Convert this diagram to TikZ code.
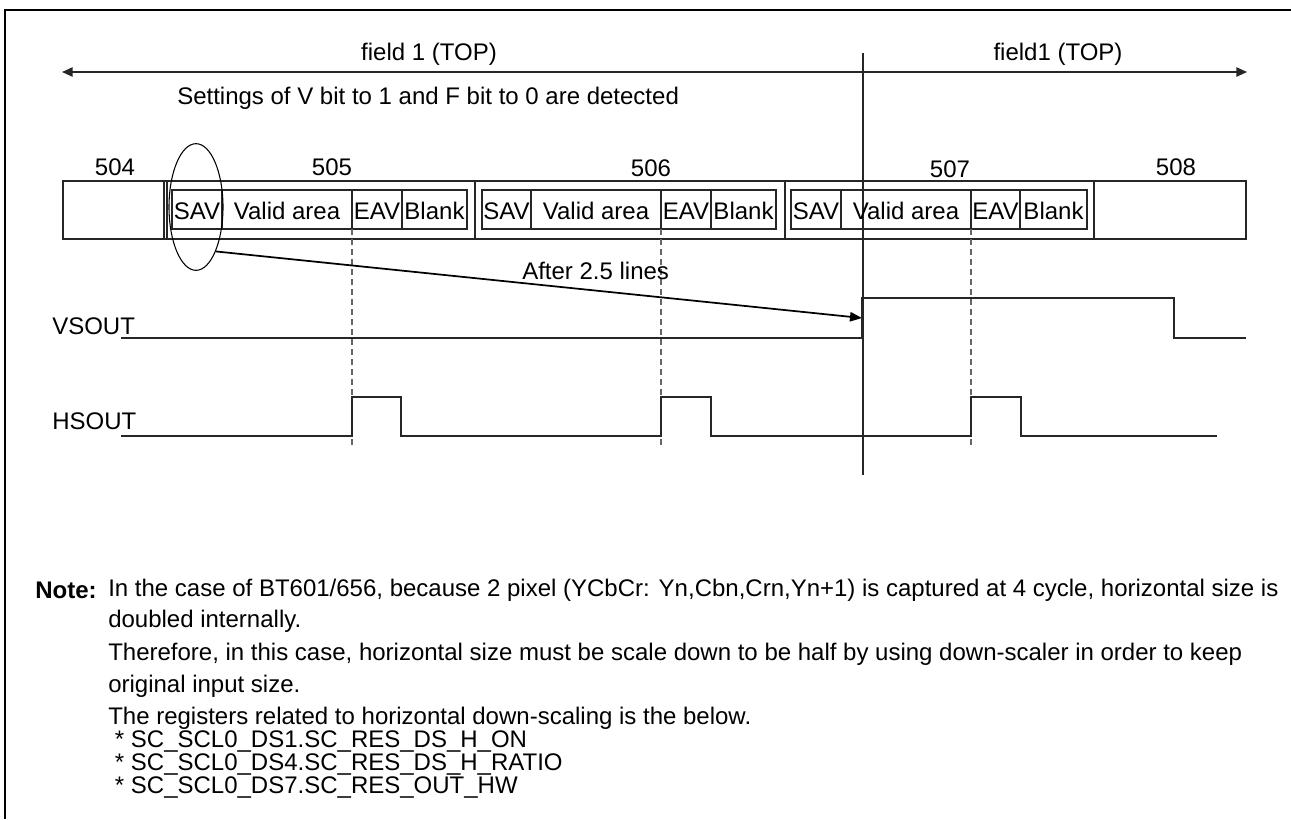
\documentclass[tikz,border=0pt]{standalone}
\usepackage{fontspec}
\setmainfont{Liberation Sans}
\usetikzlibrary{arrows.meta,shapes.geometric}
\begin{document}
\begin{tikzpicture}[x=0.75pt,y=-0.75pt,
  txt/.style={inner sep=0pt,font=\fontsize{18pt}{21pt}\selectfont},
  lbl/.style={txt,anchor=west},
  thin/.style={line width=0.8pt,draw=black!85},
  sig/.style={line width=1.2pt,draw=black!85},
  dsh/.style={line width=0.9pt,draw=black!60,dash pattern=on 4.5pt off 3pt},
  tri/.style={line width=1.2pt,draw=black!85},
]
\useasboundingbox (0,0) rectangle (1291,819);
% frame
\draw[line width=1.8pt] (1291,10) -- (5,10) -- (5,819);
% field arrow
\coordinate (fl) at (62,72);
\coordinate (fr) at (1247,72);
\draw[tri,{Triangle[length=8pt,width=7pt]}-{Triangle[length=8pt,width=7pt]}] (fl) -- (fr);
\node[txt] (f1) at (429,54) {field 1 (TOP)};
\node[txt] (f2) at (1058,54) {field1 (TOP)};
\node[lbl] (set) at (177,98) {Settings of V bit to 1 and F bit to 0 are detected};
% vertical boundary line
\coordinate (vt) at (863,53);
\coordinate (vb) at (863,475);
\draw[line width=1.1pt,draw=black!85] (vt) -- (vb);
% line numbers
\node[txt] (n504) at (115,167) {504};
\node[txt] (n505) at (332,167) {505};
\node[txt] (n506) at (651,168) {506};
\node[txt] (n507) at (950,169) {507};
\node[txt] (n508) at (1176,167) {508};
% outer box
\draw[thin] (63,181) rectangle (1246,239);
\draw[thin] (164,181) -- (164,239);
\draw[thin] (167,181) -- (167,239);
\draw[thin] (475,181) -- (475,239);
\draw[thin] (785,181) -- (785,239);
\draw[thin] (1094,181) -- (1094,239);
% inner segments
\foreach \a/\b/\c/\d/\e/\k in {172/222/352/402/467/a,482/531/661/711/776/b,791/841/971/1020/1087/c}{
  \draw[thin] (\a,190) rectangle (\e,229);
  \draw[thin] (\b,190) -- (\b,229);
  \draw[thin] (\c,190) -- (\c,229);
  \draw[thin] (\d,190) -- (\d,229);
  \node[txt] (sav\k) at ({(\a+\b)/2},211) {SAV};
  \node[txt] (val\k) at ({(\b+\c)/2},211) {Valid area};
  \node[txt] (eav\k) at ({(\c+\d)/2},211) {EAV};
  \node[txt] (blk\k) at ({(\d+\e)/2},211) {Blank};
  \draw[dsh] (\c,229) -- (\c,446);
}
% ellipse marking SAV
\node[draw,line width=0.8pt,ellipse,minimum width=40.5pt,minimum height=95pt,inner sep=0pt] (ell) at (196,207) {};
\coordinate (rise) at (862,318);
\draw[line width=1.3pt,-{Triangle[length=9pt,width=7pt]}] (ell.-66) -- (rise);
\node[lbl] (after) at (522,271) {After 2.5 lines};
% signals
\node[lbl] (vs) at (52,326) {VSOUT};
\node[lbl] (hs) at (52,421) {HSOUT};
\draw[sig] (121,338) -- (862,338) -- (862,298) -- (1174,298) -- (1174,338) -- (1246,338);
\draw[sig] (121,436) -- (352,436) -- (352,397) -- (401,397) -- (401,436) -- (661,436) -- (661,397) -- (711,397) -- (711,436) -- (971,436) -- (971,397) -- (1021,397) -- (1021,436) -- (1217,436);
% note
\node[lbl] (note) at (35,590) {\bfseries Note:};
\node[lbl] (l1) at (108,590) {In the case of BT601/656, because 2 pixel (YCbCr: Yn,Cbn,Crn,Yn+1) is captured at 4 cycle, horizontal size is};
\node[lbl] (l2) at (108,621) {doubled internally.};
\node[lbl] (l3) at (108,654) {Therefore, in this case, horizontal size must be scale down to be half by using down-scaler in order to keep};
\node[lbl] (l4) at (108,686) {original input size.};
\node[lbl] (l5) at (108,718) {The registers related to horizontal down-scaling is the below.};
\node[lbl] (l6) at (108,741) {\ * SC\_SCL0\_DS1.SC\_RES\_DS\_H\_ON};
\node[lbl] (l7) at (108,764) {\ * SC\_SCL0\_DS4.SC\_RES\_DS\_H\_RATIO};
\node[lbl] (l8) at (108,787) {\ * SC\_SCL0\_DS7.SC\_RES\_OUT\_HW};
\end{tikzpicture}
\end{document}
